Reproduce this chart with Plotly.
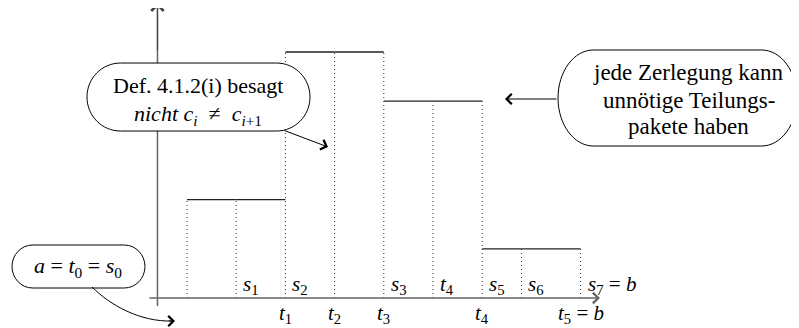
import plotly.graph_objects as go

# break points of the partition and the step values on each piece
breaks = [0, 1, 2, 3, 4, 5, 6, 6.8, 8]
levels = [2, 2, 5, 5, 4, 4, 1, 1]

# labels above and below the axis at each break point
upper_labels = ["", "<i>s</i><sub>1</sub>", "<i>s</i><sub>2</sub>", "", "<i>s</i><sub>3</sub>",
                "<i>t</i><sub>4</sub>", "<i>s</i><sub>5</sub>", "<i>s</i><sub>6</sub>",
                "<i>s</i><sub>7</sub> = <i>b</i>"]
lower_labels = ["", "", "<i>t</i><sub>1</sub>", "<i>t</i><sub>2</sub>", "<i>t</i><sub>3</sub>",
                "", "<i>t</i><sub>4</sub>", "", "<i>t</i><sub>5</sub> = <i>b</i>"]

FONT = "Liberation Serif, Times New Roman, DejaVu Serif, serif"
U = 49.2    # pixels per unit, same on both axes
PAD = 8     # page body margin around the plot div

fig = go.Figure()

# vertical axis line (sits under the callout box); tip added below
fig.add_trace(go.Scatter(x=[-0.600, -0.600], y=[-0.163, 5.95],
                         mode="lines", line=dict(color="#666666", width=1.5),
                         hoverinfo="skip", showlegend=False))

# step function
sx, sy = [], []
for i, lv in enumerate(levels):
    sx += [breaks[i], breaks[i + 1], None]
    sy += [lv, lv, None]
fig.add_trace(go.Scatter(x=sx, y=sy, mode="lines", line=dict(color="#222222", width=1.3),
                         hoverinfo="skip", showlegend=False))

# dotted verticals up to the higher neighbouring step
dx, dy = [], []
for i, b in enumerate(breaks):
    nb = [levels[j] for j in (i - 1, i) if 0 <= j < len(levels)]
    dx += [b, b, None]
    dy += [0, max(nb), None]
fig.add_trace(go.Scatter(x=dx, y=dy, mode="lines",
                         line=dict(color="#333333", width=1, dash="1px,3px"),
                         hoverinfo="skip", showlegend=False))

ann = []
for b, lab in zip(breaks, upper_labels):
    if lab:
        ann.append(dict(x=b + 0.1, y=0.27, text=lab, showarrow=False, xanchor="left",
                        font=dict(family=FONT, size=21)))
for b, lab in zip(breaks, lower_labels):
    if lab:
        ann.append(dict(x=b, y=-0.32, text=lab, showarrow=False, xanchor="center",
                        font=dict(family=FONT, size=21)))


def arrow(x0, y0, x1, y1, color="#000000", width=1.0, size=2.0):
    return dict(x=x1, y=y1, ax=x0, ay=y0, xref="x", yref="y", axref="x", ayref="y",
                showarrow=True, arrowhead=4, arrowsize=size, arrowwidth=width,
                arrowcolor=color, standoff=0, startstandoff=0, text="")


# horizontal axis with its arrow, and the tip of the vertical axis
ann.append(arrow(-0.793, 0, 8.394, 0, "#666666", 1.5, 1.4))
ann.append(arrow(-0.600, 5.0, -0.600, 6.0, "#444444", 1.2, 2.0))

# callout arrows
ann.append(arrow(1.951, 3.415, 2.866, 3.069))
ann.append(arrow(7.541, 4.045, 6.463, 4.045))
ann.append(arrow(-0.40, -0.468, -0.244, -0.467))

# callout texts
ann.append(dict(x=-2.225, y=0.63,
                text="<i>a</i> = <i>t</i><sub>0</sub> = <i>s</i><sub>0</sub>",
                showarrow=False, font=dict(family=FONT, size=22)))
ann.append(dict(x=0.224, y=4.329, text="Def. 4.1.2(i) besagt", showarrow=False,
                font=dict(family=FONT, size=22)))
ann.append(dict(x=0.224, y=3.720,
                text="<i>nicht c<sub>i</sub></i>  \u2260  <i>c</i><sub><i>i</i>+1</sub>",
                showarrow=False, font=dict(family=FONT, size=22)))
for yy, t in zip([4.593, 4.024, 3.476], ["jede Zerlegung kann", "unnötige Teilungs-", "pakete haben"]):
    ann.append(dict(x=10.2, y=yy, text=t, showarrow=False, font=dict(family=FONT, size=23)))


def stadium(x0, x1, y0, y1, rx):
    k = 0.5523
    ym = (y0 + y1) / 2
    ry = (y1 - y0) / 2
    return (f"M{x0 + rx},{y1} L{x1 - rx},{y1} "
            f"C{x1 - rx + k * rx},{y1} {x1},{ym + k * ry} {x1},{ym} "
            f"C{x1},{ym - k * ry} {x1 - rx + k * rx},{y0} {x1 - rx},{y0} "
            f"L{x0 + rx},{y0} "
            f"C{x0 + rx - k * rx},{y0} {x0},{ym - k * ry} {x0},{ym} "
            f"C{x0},{ym + k * ry} {x0 + rx - k * rx},{y1} {x0 + rx},{y1} Z")


shapes = [
    dict(type="path", path=stadium(-3.557, -0.854, 0.203, 1.077, 0.42), xref="x", yref="y",
         line=dict(color="#000000", width=1), fillcolor="white", layer="above"),
    dict(type="path", path=stadium(-2.033, 2.500, 3.394, 4.776, 0.68), xref="x", yref="y",
         line=dict(color="#000000", width=1), fillcolor="white", layer="above"),
    dict(type="path", path=stadium(7.541, 12.398, 3.089, 5.041, 0.72), xref="x", yref="y",
         line=dict(color="#000000", width=1), fillcolor="white", layer="above"),
    # curved connector from the a = t0 = s0 box
    dict(type="path", path="M-1.931,0.224 C-1.565,-0.142 -0.955,-0.488 -0.30,-0.467",
         xref="x", yref="y", line=dict(color="#000000", width=1)),
]

fig.update_layout(
    width=799 - PAD, height=328 - PAD,
    margin=dict(l=0, r=0, t=0, b=0),
    paper_bgcolor="white", plot_bgcolor="white",
    font=dict(family=FONT, color="#000000", size=21),
    xaxis=dict(range=[(PAD - 187) / U, (799 - 187) / U], visible=False, fixedrange=True),
    yaxis=dict(range=[(298 - 328) / U, (298 - PAD) / U], visible=False, fixedrange=True),
    annotations=ann, shapes=shapes, showlegend=False,
)

fig.write_html("out.html")
